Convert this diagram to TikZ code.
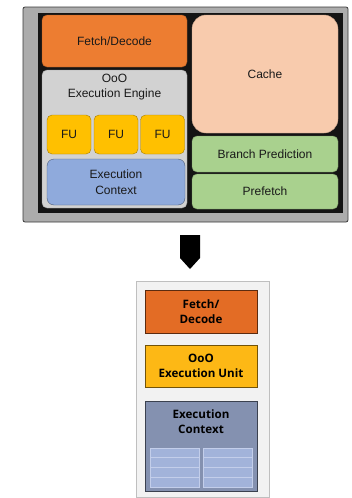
\documentclass[tikz,border=0pt]{standalone}
\usepackage{fontspec}
\setmainfont{Liberation Sans}
\newfontfamily\boldsans{Open Sans}
\begin{document}
\begin{tikzpicture}[x=1pt,y=-1pt,
  chipbox/.style={rounded corners=5pt, inner sep=0pt, align=center, text=black!90,
    font=\fontsize{12}{15.5}\selectfont},
  corebox/.style={draw, line width=0.7pt, inner sep=0pt, align=center,
    font=\boldsans\bfseries\fontsize{11.6}{15.5}\selectfont},
  cell/.style={fill=cellblue, draw=cellline, line width=0.6pt}
]
\definecolor{fdorange}{HTML}{ED7D31}
\definecolor{oogray}{HTML}{D2D2D2}
\definecolor{fuyellow}{HTML}{FFC000}
\definecolor{ctxblue}{HTML}{8FAADC}
\definecolor{cachepeach}{HTML}{F8CBAD}
\definecolor{bpgreen}{HTML}{A9D18E}
\definecolor{coreorange}{HTML}{E36C25}
\definecolor{coreyellow}{HTML}{FDB815}
\definecolor{coreslate}{HTML}{8491B0}
\definecolor{cellblue}{HTML}{A2B3DA}
\definecolor{cellline}{HTML}{C3CEEA}
\useasboundingbox (0,0) rectangle (352,498);

% ---- full processor die ----
\node[fill=gray!65, draw=gray!45!black, line width=0.8pt, rounded corners=2pt,
  minimum width=325pt, minimum height=215pt, inner sep=0pt] (frame) at (185.5,114.5) {};
\node[fill=black!92, minimum width=305pt, minimum height=200pt, inner sep=0pt] (die) at (190.5,113) {};

\node[chipbox, fill=fdorange, draw=fdorange!70!black, minimum width=145pt, minimum height=52pt]
  (fetch) at (114.5,41) {Fetch/Decode};
\node[chipbox, fill=oogray, draw=gray!80, minimum width=145pt, minimum height=138pt]
  (ooo) at (114.5,139) {};
\node[chipbox, anchor=north] (ooolabel) at (114.5,73.5) {OoO\\Execution Engine};
\node[chipbox, fill=fuyellow, draw=fuyellow!65!black, minimum width=44pt, minimum height=39pt]
  (fu1) at (69,134.5) {FU};
\node[chipbox, fill=fuyellow, draw=fuyellow!65!black, minimum width=44pt, minimum height=39pt]
  (fu2) at (116,134.5) {FU};
\node[chipbox, fill=fuyellow, draw=fuyellow!65!black, minimum width=44pt, minimum height=39pt]
  (fu3) at (162.5,134.5) {FU};
\node[chipbox, fill=ctxblue, draw=ctxblue!55!black, rounded corners=7pt,
  minimum width=138pt, minimum height=46pt] (ctx) at (116,182) {Execution\\Context};

\node[chipbox, fill=cachepeach, draw=cachepeach!80!black, rounded corners=14pt,
  minimum width=146pt, minimum height=118pt] (cache) at (265,74) {Cache};
\node[chipbox, fill=bpgreen, draw=bpgreen!70!black, minimum width=146pt, minimum height=36pt]
  (branch) at (265,154) {Branch Prediction};
\node[chipbox, fill=bpgreen, draw=bpgreen!70!black, minimum width=146pt, minimum height=35pt]
  (prefetch) at (265,191.5) {Prefetch};

% ---- downward block arrow ----
\fill[black] (180,235) -- (200,235) -- (200,258) -- (190,269) -- (180,258) -- cycle;

% ---- simplified core ----
\node[fill=black!5, draw=black!25, line width=0.8pt, minimum width=133pt, minimum height=216pt,
  inner sep=0pt] (core) at (202.5,389) {};
\node[corebox, fill=coreorange, draw=coreorange!40!black, minimum width=112pt, minimum height=43pt]
  (cfetch) at (201,311.5) {Fetch/\\Decode};
\node[corebox, fill=coreyellow, draw=coreyellow!45!black, minimum width=112pt, minimum height=42pt]
  (cooo) at (201,366) {OoO\\Execution Unit};
\node[corebox, fill=coreslate, draw=coreslate!45!black, minimum width=112pt, minimum height=90pt]
  (cctx) at (201,446) {};
\node[corebox, draw=none] (cctxlabel) at (201,421.5) {Execution\\Context};

% register cells
\foreach \xl/\xr in {150/199, 203/252}{
  \fill[cellblue] (\xl,448) rectangle (\xr,487);
  \foreach \yy in {457.75, 467.5, 477.25}
    \draw[cellline, line width=0.6pt] (\xl,\yy) -- (\xr,\yy);
  \draw[cellline, line width=0.6pt] (\xl,448) rectangle (\xr,487);
}
\end{tikzpicture}
\end{document}
